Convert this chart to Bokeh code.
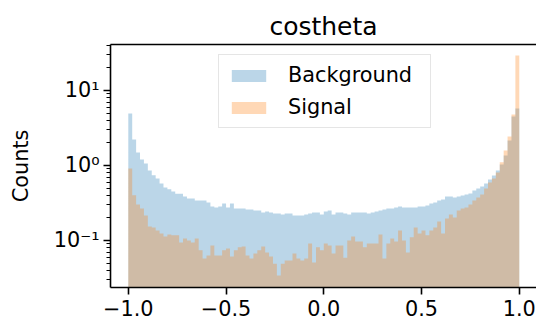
import numpy as np
from bokeh.plotting import figure
from bokeh.models import FixedTicker, CustomJSTickFormatter, LinearAxis, ColumnDataSource
from bokeh.embed import file_html
from bokeh.resources import INLINE

# ---- data ----
title_text = "costheta"
y_label = "Counts"
x_min, x_max, n_bins = -1.0, 1.0, 100

background = [4.93, 2.22, 1.49, 1.20, 1.06, 0.86, 0.74, 0.67, 0.575, 0.51,
              0.48, 0.45, 0.42, 0.42, 0.386, 0.363, 0.363, 0.341, 0.341, 0.341,
              0.321, 0.284, 0.275, 0.284, 0.311, 0.275, 0.311, 0.267, 0.267, 0.267,
              0.259, 0.259, 0.251, 0.251, 0.236, 0.244, 0.236, 0.229, 0.229, 0.222,
              0.229, 0.229, 0.215, 0.215, 0.215, 0.222, 0.229, 0.236, 0.236, 0.222,
              0.244, 0.251, 0.222, 0.236, 0.236, 0.229, 0.222, 0.236, 0.236, 0.236,
              0.236, 0.229, 0.236, 0.244, 0.251, 0.259, 0.267, 0.267, 0.275, 0.284,
              0.275, 0.275, 0.275, 0.275, 0.284, 0.284, 0.293, 0.311, 0.321, 0.341,
              0.352, 0.386, 0.386, 0.374, 0.386, 0.398, 0.41, 0.423, 0.464, 0.493,
              0.525, 0.575, 0.651, 0.736, 0.858, 1.03, 1.36, 2.15, 4.50, 5.75]

signal = [0.91, 0.40, 0.302, 0.267, 0.215, 0.154, 0.149, 0.136, 0.124, 0.113,
          0.12, 0.117, 0.117, 0.094, 0.106, 0.10, 0.094, 0.106, 0.074, 0.0575,
          0.063, 0.086, 0.063, 0.063, 0.074, 0.078, 0.061, 0.074, 0.081, 0.083,
          0.063, 0.0575, 0.067, 0.074, 0.083, 0.069, 0.061, 0.049, 0.034, 0.049,
          0.054, 0.054, 0.067, 0.0575, 0.054, 0.0575, 0.091, 0.051, 0.081, 0.074,
          0.091, 0.086, 0.067, 0.086, 0.086, 0.059, 0.10, 0.113, 0.097, 0.097,
          0.081, 0.091, 0.091, 0.091, 0.12, 0.0575, 0.091, 0.106, 0.097, 0.136,
          0.10, 0.069, 0.11, 0.149, 0.124, 0.136, 0.117, 0.136, 0.149, 0.179,
          0.124, 0.197, 0.222, 0.203, 0.251, 0.267, 0.275, 0.302, 0.341, 0.374,
          0.41, 0.493, 0.593, 0.671, 0.806, 1.10, 1.585, 2.44, 4.79, 29.3]

series_names = ["Background", "Signal"]
series_colors = ["#1f77b4", "#ff7f0e"]

x_ticks = [-1.0, -0.5, 0.0, 0.5, 1.0]
x_tick_labels = ["\u22121.0", "\u22120.5", "0.0", "0.5", "1.0"]
y_ticks = [0.1, 1.0, 10.0]
y_tick_labels = ["10\u207b\u00b9", "10\u2070", "10\u00b9"]
y_minor_ticks = [0.02, 0.03, 0.04, 0.05, 0.06, 0.07, 0.08, 0.09,
                 0.2, 0.3, 0.4, 0.5, 0.6, 0.7, 0.8, 0.9,
                 2, 3, 4, 5, 6, 7, 8, 9, 20, 30, 40]

# ---- figure ----
FONT = "DejaVu Sans"
LW = 1.6

p = figure(width=536, height=323, y_axis_type="log",
           x_range=(-1.091, 1.088), y_range=(0.0236, 41.0),
           output_backend="svg", toolbar_location=None,
           min_border_left=110, min_border_right=0,
           min_border_top=44, min_border_bottom=36,
           title=title_text)
p.outline_line_color = None
p.grid.visible = False
p.background_fill_color = "white"
p.border_fill_color = "white"

p.title.align = "center"
p.title.vertical_align = "middle"
p.title.text_font = FONT
p.title.text_font_size = "25px"
p.title.text_font_style = "normal"
p.title.text_color = "black"
p.title.standoff = 6

edges = np.linspace(x_min, x_max, n_bins + 1)
for name, vals, col in zip(series_names, [background, signal], series_colors):
    src = ColumnDataSource(dict(x=edges,
                                y1=np.full(len(edges), 1e-4),
                                y2=list(vals) + [vals[-1]]))
    p.varea_step(x="x", y1="y1", y2="y2", step_mode="after", source=src,
                 fill_color=col, fill_alpha=0.3, legend_label=name)

fmt_js = """
for (let i = 0; i < tv.length; i++) {
  if (Math.abs(tv[i] - tick) <= 1e-6 * Math.max(1e-9, Math.abs(tv[i]))) return labels[i];
}
return "";
"""

xa = p.xaxis[0]
xa.ticker = FixedTicker(ticks=x_ticks, minor_ticks=[])
xa.formatter = CustomJSTickFormatter(args=dict(tv=x_ticks, labels=x_tick_labels), code=fmt_js)
ya = p.yaxis[0]
ya.ticker = FixedTicker(ticks=y_ticks, minor_ticks=y_minor_ticks)
ya.formatter = CustomJSTickFormatter(args=dict(tv=y_ticks, labels=y_tick_labels), code=fmt_js)
ya.axis_label = y_label

for ax in (xa, ya):
    ax.axis_line_color = "black"
    ax.axis_line_width = LW
    ax.major_tick_line_color = "black"
    ax.major_tick_line_width = LW
    ax.major_tick_out = 7
    ax.major_tick_in = 0
    ax.minor_tick_line_color = "black"
    ax.minor_tick_line_width = 1.2
    ax.minor_tick_out = 4
    ax.minor_tick_in = 0
    ax.major_label_text_font = FONT
    ax.major_label_text_font_size = "20.8px"
    ax.major_label_text_color = "black"
    ax.axis_label_text_font = FONT
    ax.axis_label_text_font_size = "20.8px"
    ax.axis_label_text_font_style = "normal"
    ax.axis_label_text_color = "black"
xa.major_label_standoff = 5
ya.major_label_standoff = 4
ya.axis_label_standoff = 18

top = LinearAxis(ticker=FixedTicker(ticks=[]), axis_line_color="black", axis_line_width=LW,
                 major_tick_out=0, major_tick_in=0, minor_tick_out=0, minor_tick_in=0)
p.add_layout(top, "above")

lg = p.legend[0]
lg.location = (108, 159)
lg.label_text_font = FONT
lg.label_text_font_size = "20.8px"
lg.label_text_color = "black"
lg.glyph_width = 43
lg.glyph_height = 15
lg.label_standoff = 18
lg.label_width = 134
lg.padding = 8
lg.spacing = 8
lg.margin = 0
lg.border_line_color = "#cccccc"
lg.border_line_width = 1.5
lg.background_fill_alpha = 0.8

open("out.html", "w").write(file_html(p, INLINE))
